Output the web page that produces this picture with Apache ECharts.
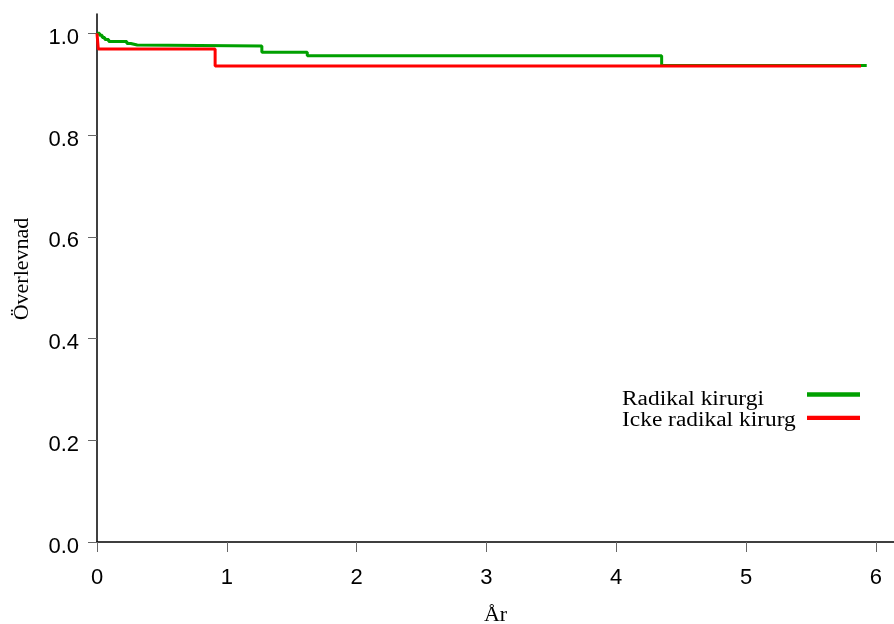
<!DOCTYPE html>
<html>
<head>
<meta charset="utf-8">
<script src="https://cdn.jsdelivr.net/npm/echarts@6/dist/echarts.min.js"></script>
<style>html,body{margin:0;padding:0;background:#fff}#c{width:894px;height:624px}</style>
</head>
<body>
<div id="c"></div>
<script>
var seriesNames = ['Radikal kirurgi', 'Icke radikal kirurg'];
var seriesColors = ['#00A000', '#FF0000'];
var radikalTime = [0, 0.02, 0.04, 0.06, 0.09, 0.23, 0.26, 0.31, 1.27, 1.62, 4.35, 5.93];
var radikalSurv = [1.0, 0.996, 0.992, 0.988, 0.984, 0.980, 0.977, 0.975, 0.963, 0.956, 0.937, 0.937];
var ickeTime = [0, 0.01, 0.91, 5.886];
var ickeSurv = [1.0, 0.969, 0.936, 0.936];
var xTicks = [0, 1, 2, 3, 4, 5, 6];
var yTicks = [0.0, 0.2, 0.4, 0.6, 0.8, 1.0];

function pairs(t, s) { return t.map(function (v, i) { return [v, s[i]]; }); }

var chart = echarts.init(document.getElementById('c'), null, { renderer: 'canvas' });
var serif = 'Liberation Serif';
var sans = 'Liberation Sans';
var serifSize = 22;

var legendGraphics = [];
var legendRowY = [399.5, 420.5];
var legendLineY = [394.5, 417.8];
seriesNames.forEach(function (n, i) {
  legendGraphics.push({
    type: 'text', x: 622, y: legendRowY[i], scaleX: 1.17,
    style: { text: n, font: '20px "' + serif + '"', fill: '#000', textAlign: 'left', textVerticalAlign: 'middle' }
  });
  legendGraphics.push({
    type: 'line', shape: { x1: 807, y1: legendLineY[i], x2: 860, y2: legendLineY[i] },
    style: { stroke: seriesColors[i], lineWidth: 4.3 }
  });
});

chart.setOption({
  animation: false,
  backgroundColor: '#ffffff',
  grid: { left: 97, top: 14, right: 0, bottom: 82, containLabel: false, outerBoundsMode: 'none' },
  graphic: legendGraphics,
  xAxis: {
    type: 'value',
    min: 0,
    max: 6.14,
    interval: 1,
    name: 'År',
    nameLocation: 'middle',
    nameGap: 62,
    nameTextStyle: { fontFamily: serif, fontSize: serifSize, color: '#000' },
    axisLine: { show: true, lineStyle: { color: '#000', width: 1.5 } },
    axisTick: { show: true, length: 10, lineStyle: { color: '#666', width: 1 } },
    axisLabel: {
      fontFamily: sans, fontSize: 22, color: '#000', margin: 25,
      formatter: function (v) { return xTicks.indexOf(v) >= 0 ? String(v) : ''; },
      showMaxLabel: false
    },
    splitLine: { show: false }
  },
  yAxis: {
    type: 'value',
    min: 0,
    max: 1.038,
    interval: 0.2,
    name: 'Överlevnad',
    nameLocation: 'middle',
    nameGap: 64,
    nameTextStyle: { fontFamily: serif, fontSize: serifSize, color: '#000', padding: [0, 0, 0, 18] },
    axisLine: { show: true, lineStyle: { color: '#000', width: 1.5 } },
    axisTick: { show: true, length: 9, lineStyle: { color: '#666', width: 1 } },
    axisLabel: {
      fontFamily: sans, fontSize: 22, color: '#000', margin: 18,
      verticalAlign: 'top', lineHeight: 9,
      formatter: function (v) { return v.toFixed(1); },
      showMaxLabel: false
    },
    splitLine: { show: false }
  },
  series: [
    {
      name: seriesNames[0], type: 'line', step: 'end', showSymbol: false, symbol: 'none',
      data: pairs(radikalTime, radikalSurv),
      itemStyle: { color: seriesColors[0] },
      lineStyle: { color: seriesColors[0], width: 3 }
    },
    {
      name: seriesNames[1], type: 'line', step: 'end', showSymbol: false, symbol: 'none',
      data: pairs(ickeTime, ickeSurv),
      itemStyle: { color: seriesColors[1] },
      lineStyle: { color: seriesColors[1], width: 3 }
    }
  ]
});
</script>
</body>
</html>
